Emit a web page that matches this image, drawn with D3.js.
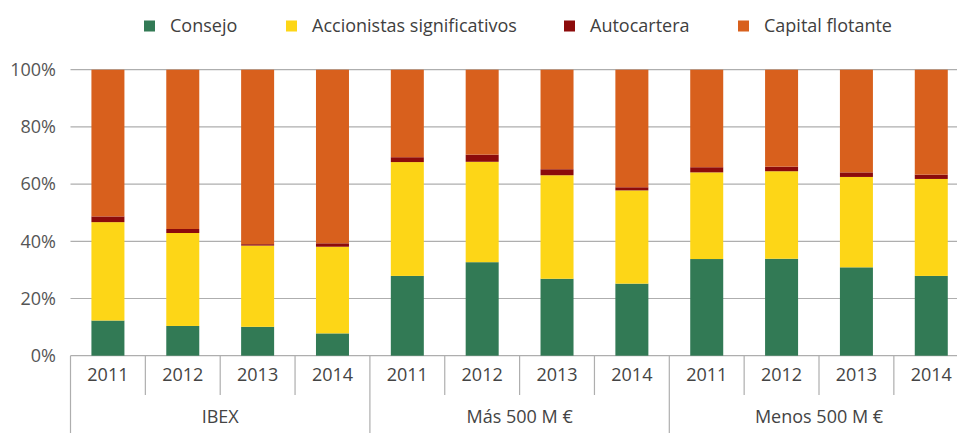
<!DOCTYPE html>
<html><head><meta charset="utf-8">
<script src="https://cdn.jsdelivr.net/npm/d3@7"></script>
<style>
html,body{margin:0;padding:0;background:#fff;}
svg{display:block;font-family:"Open Sans",sans-serif;}
</style></head>
<body>
<svg id="chart" width="957" height="443"></svg>
<script>
const groups = ["IBEX", "Más 500 M €", "Menos 500 M €"];
const years = ["2011", "2012", "2013", "2014"];
const seriesNames = ["Consejo", "Accionistas significativos", "Autocartera", "Capital flotante"];
const seriesColors = ["#327a55", "#fdd617", "#8c0b0b", "#d8601d"];
// values in % per bar (group-major, year-minor)
const consejo      = [12.3, 10.4, 10.1, 7.8,  27.9, 32.7, 26.9, 25.2,  33.8, 33.9, 30.9, 27.9];
const accionistas  = [34.4, 32.5, 28.4, 30.3, 39.8, 35.1, 36.2, 32.6,  30.3, 30.6, 31.6, 33.9];
const autocartera  = [2.0,  1.4,  0.5,  1.2,  1.7,  2.5,  2.1,  1.1,   1.8,  1.6,  1.6,  1.5];
const yTicks = [0, 20, 40, 60, 80, 100];

const rows = [];
groups.forEach((g, gi) => years.forEach((y, yi) => {
  const i = gi * years.length + yi;
  const c = consejo[i], a = accionistas[i], t = autocartera[i];
  rows.push({key: g + "|" + y, group: g, year: y,
    "Consejo": c, "Accionistas significativos": a, "Autocartera": t,
    "Capital flotante": 100 - c - a - t});
}));

const svg = d3.select("#chart");
const x0 = 70.5, step = 74.85;
const x = d3.scaleBand().domain(rows.map(r => r.key)).range([x0, x0 + step * rows.length]).padding(0);
const y = d3.scaleLinear().domain([0, 100]).range([355.7, 69.7]);
const barW = 33;
const fs = 18;

// gridlines
svg.append("g").selectAll("line").data(yTicks).join("line")
  .attr("x1", x0).attr("x2", 957)
  .attr("y1", d => y(d)).attr("y2", d => y(d))
  .attr("stroke", "#aeaeae").attr("stroke-width", 1.2);

// y labels
svg.append("g").selectAll("text").data(yTicks).join("text")
  .attr("x", 56).attr("y", d => y(d)).attr("dy", "0.35em")
  .attr("text-anchor", "end").attr("fill", "#555").attr("font-size", fs)
  .text(d => d + "%");

// stacked bars
const stack = d3.stack().keys(seriesNames)(rows);
const color = d3.scaleOrdinal().domain(seriesNames).range(seriesColors);
svg.append("g").selectAll("g").data(stack).join("g")
  .attr("fill", d => color(d.key))
  .selectAll("rect").data(d => d).join("rect")
  .attr("x", d => x(d.data.key) + x.bandwidth() / 2 - barW / 2)
  .attr("width", barW)
  .attr("y", d => y(d[1]))
  .attr("height", d => y(d[0]) - y(d[1]));

// category axis
const axisY = y(0);
const bounds = rows.map(r => x(r.key)).concat([x0 + step * rows.length]);
svg.append("g").selectAll("line").data(bounds).join("line")
  .attr("x1", d => d).attr("x2", d => d)
  .attr("y1", axisY)
  .attr("y2", (d, i) => (i % years.length === 0) ? 433 : 395)
  .attr("stroke", "#aeaeae").attr("stroke-width", 1.2);
svg.append("g").selectAll("text").data(rows).join("text")
  .attr("x", d => x(d.key) + x.bandwidth() / 2).attr("y", 375).attr("dy", "0.35em")
  .attr("text-anchor", "middle").attr("fill", "#444").attr("font-size", fs)
  .text(d => d.year);
svg.append("g").selectAll("text").data(groups).join("text")
  .attr("x", (g, gi) => x(g + "|" + years[0]) + step * years.length / 2).attr("y", 417).attr("dy", "0.35em")
  .attr("text-anchor", "middle").attr("fill", "#444").attr("font-size", fs)
  .text(d => d);

// legend
const legendX = [144, 286, 564, 738];
const lg = svg.append("g").selectAll("g").data(seriesNames).join("g")
  .attr("transform", (d, i) => `translate(${legendX[i]},0)`);
lg.append("rect").attr("x", 0).attr("y", 20.5).attr("width", 11).attr("height", 11)
  .attr("fill", d => color(d));
lg.append("text").attr("x", 26).attr("y", 25.5).attr("dy", "0.35em")
  .attr("fill", "#404040").attr("font-size", fs).text(d => d);
</script>
</body></html>
